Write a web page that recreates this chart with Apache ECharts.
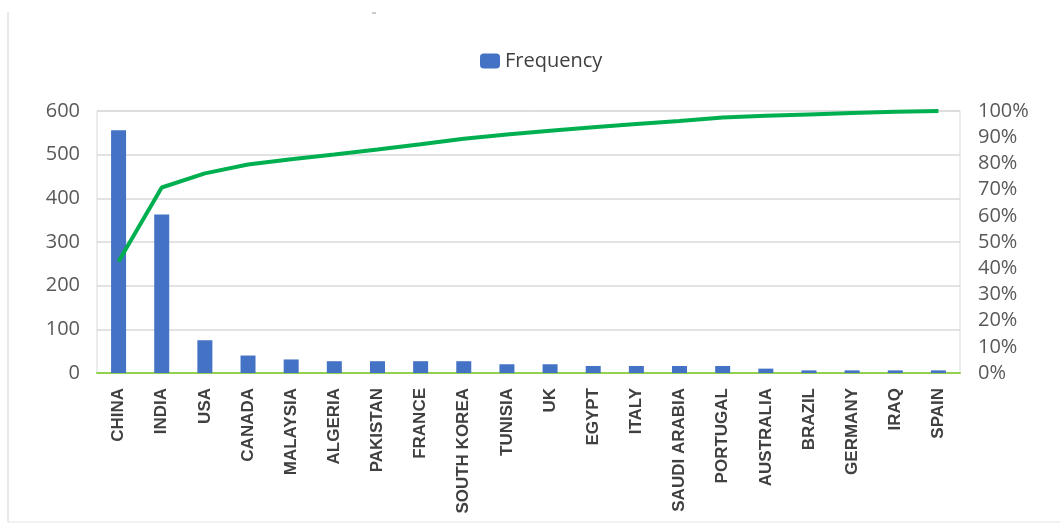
<!DOCTYPE html>
<html>
<head>
<meta charset="utf-8">
<script src="https://cdn.jsdelivr.net/npm/echarts@6/dist/echarts.min.js"></script>
<style>
html,body{margin:0;padding:0;background:#fff;}
#c{width:1060px;height:525px;}
</style>
</head>
<body>
<div id="c"></div>
<script>
var categories = ['CHINA','INDIA','USA','CANADA','MALAYSIA','ALGERIA','PAKISTAN','FRANCE','SOUTH KOREA','TUNISIA','UK','EGYPT','ITALY','SAUDI ARABIA','PORTUGAL','AUSTRALIA','BRAZIL','GERMANY','IRAQ','SPAIN'];
var frequency = [556, 363, 75, 40, 31, 27, 27, 27, 27, 20, 20, 16, 16, 16, 16, 10, 6, 6, 6, 6];
var cumulativePct = [42.6, 70.8, 76.2, 79.6, 81.6, 83.4, 85.3, 87.3, 89.4, 91.0, 92.5, 93.8, 95.0, 96.2, 97.5, 98.2, 98.7, 99.2, 99.7, 100];
var leftTicks = [0, 600, 100];
var rightTicks = [0, 100, 10];

var chart = echarts.init(document.getElementById('c'), null, {renderer:'canvas'});
chart.setOption({
  backgroundColor:'#ffffff',
  animation:false,
  graphic:[
    {type:'line', shape:{x1:8,y1:12,x2:8,y2:522}, style:{stroke:'#d4d4d4',lineWidth:1}},
    {type:'line', shape:{x1:8,y1:522,x2:1060,y2:522}, style:{stroke:'#e4e4e4',lineWidth:1}},
    {type:'line', shape:{x1:372,y1:13,x2:376,y2:13}, style:{stroke:'#999',lineWidth:1}}
  ],
  legend:{
    data:['Frequency'],
    left:475, top:46,
    itemWidth:20, itemHeight:15, itemGap:12,
    textStyle:{fontFamily:'Open Sans', fontSize:20, color:'#404040'}
  },
  grid:{left:97, right:100, top:111, bottom:152, show:true, borderColor:'#d9d9d9', borderWidth:1},
  xAxis:{
    type:'category',
    data:categories,
    axisLine:{show:true, lineStyle:{color:'#92d050', width:2}},
    axisTick:{show:false},
    axisLabel:{rotate:90, interval:0, margin:15, fontFamily:'Liberation Sans', fontWeight:'bold', fontSize:17, color:'#404040'}
  },
  yAxis:[
    {type:'value', min:leftTicks[0], max:leftTicks[1], interval:leftTicks[2],
     axisLine:{show:false}, axisTick:{show:false},
     splitLine:{lineStyle:{color:'#d9d9d9', width:1.5}},
     axisLabel:{margin:17, fontFamily:'Open Sans', fontSize:20, color:'#595959'}},
    {type:'value', min:rightTicks[0], max:rightTicks[1], interval:rightTicks[2], position:'right',
     axisLine:{show:false}, axisTick:{show:false}, splitLine:{show:false},
     axisLabel:{margin:18, fontFamily:'Open Sans', fontSize:20, color:'#595959', formatter:'{value}%'}}
  ],
  series:[
    {name:'Frequency', type:'bar', data:frequency, barWidth:15, itemStyle:{color:'#4472c4'}, yAxisIndex:0},
    {name:'Cumulative', type:'line', data:cumulativePct, yAxisIndex:1, symbol:'none',
     lineStyle:{color:'#00b050', width:4}, itemStyle:{color:'#00b050'}, z:5}
  ]
});
</script>
</body>
</html>
